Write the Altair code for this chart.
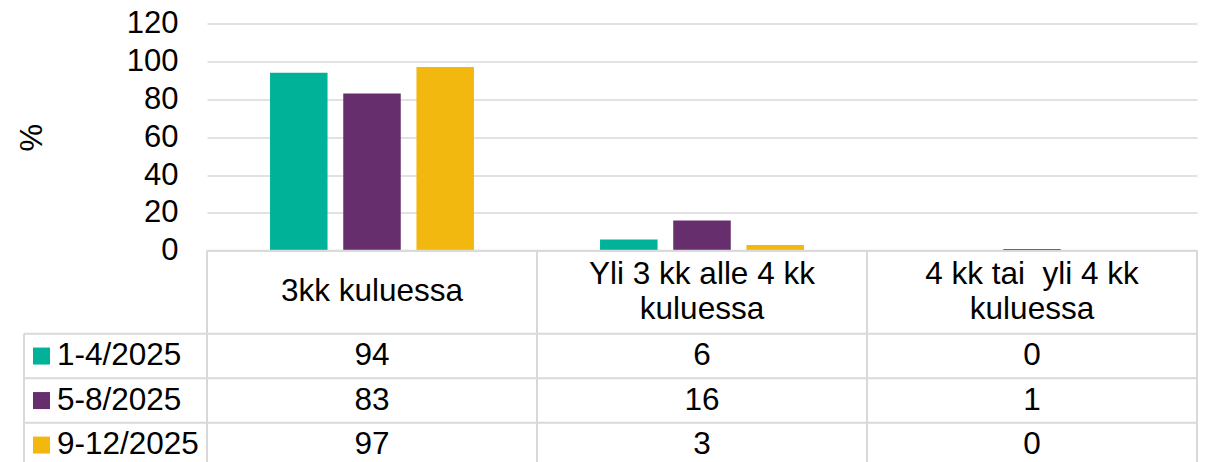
import altair as alt
import pandas as pd

# ---------------- data ----------------
categories = ["3kk kuluessa", "Yli 3 kk alle 4 kk kuluessa", "4 kk tai  yli 4 kk kuluessa"]
header_labels = ["3kk kuluessa", "Yli 3 kk alle 4 kk\nkuluessa", "4 kk tai \u00a0yli 4 kk\nkuluessa"]
series = ["1-4/2025", "5-8/2025", "9-12/2025"]
values_1_4 = [94, 6, 0]
values_5_8 = [83, 16, 1]
values_9_12 = [97, 3, 0]
colors = ["#00b398", "#672e6d", "#f2b80f"]
y_ticks = [0, 20, 40, 60, 80, 100, 120]

# ---------------- layout (pixels) ----------------
FONT = "Liberation Sans"
FS = 31
FS_T = 31.5
LH = 35
W = 990            # plot width
H = 447            # total drawing height (bars + table)
PLOT_H = 227.3     # height of the bar area
HEADER_H = 83
ROW_H = 44.5
LEGEND_W = 183
GRID = "#d9d9d9"

all_vals = [values_1_4, values_5_8, values_9_12]
bar_rows = []
for s, vals in zip(series, all_vals):
    for c, v in zip(categories, vals):
        bar_rows.append({"category": c, "series": s, "value": v})
bar_df = pd.DataFrame(bar_rows)

bars = alt.Chart(bar_df).mark_bar().encode(
    x=alt.X("category:N", sort=categories,
            scale=alt.Scale(domain=categories, paddingInner=0, paddingOuter=0),
            axis=None),
    xOffset=alt.XOffset("series:N", sort=series,
                        scale=alt.Scale(domain=series, paddingInner=0.2145, paddingOuter=0.861)),
    y=alt.Y("value:Q",
            scale=alt.Scale(domain=[0, 120], range=[PLOT_H, 0], nice=False, zero=True),
            axis=alt.Axis(values=y_ticks, title="%", grid=True, gridColor=GRID, gridWidth=1.5,
                          ticks=False, domain=False, labelFont=FONT, labelFontSize=FS,
                          labelColor="#000000", labelPadding=29,
                          titleFont=FONT, titleFontSize=FS, titleFontWeight="normal",
                          titleColor="#000000", titleAngle=270, titleBaseline="middle",
                          titleAlign="center", titleX=-175, titleY=PLOT_H / 2)),
    color=alt.Color("series:N", scale=alt.Scale(domain=series, range=colors), legend=None),
)

# ---------------- table ----------------
ncol = len(categories)
colw = W / ncol
top = PLOT_H
hdr_bottom = top + HEADER_H
row_tops = [hdr_bottom + i * ROW_H for i in range(len(series) + 1)]

tx = alt.Scale(domain=[-LEGEND_W, W], range=[-LEGEND_W, W], nice=False, zero=False)
ty = alt.Scale(domain=[0, H], range=[0, H], nice=False, zero=False)

h_rows = [{"y": top, "x": 0, "x2": W}]
for yv in row_tops:
    h_rows.append({"y": yv, "x": -LEGEND_W, "x2": W})
h_df = pd.DataFrame(h_rows)

v_rows = [{"x": -LEGEND_W, "y": hdr_bottom, "y2": row_tops[-1]}]
for i in range(ncol + 1):
    v_rows.append({"x": i * colw, "y": top, "y2": row_tops[-1]})
v_df = pd.DataFrame(v_rows)

hrules = alt.Chart(h_df).mark_rule(color=GRID, strokeWidth=2).encode(
    x=alt.X("x:Q", scale=tx, axis=None), x2="x2:Q",
    y=alt.Y("y:Q", scale=ty, axis=None))
vrules = alt.Chart(v_df).mark_rule(color=GRID, strokeWidth=2).encode(
    x=alt.X("x:Q", scale=tx, axis=None),
    y=alt.Y("y:Q", scale=ty, axis=None), y2="y2:Q")

header_df = pd.DataFrame({
    "x": [(i + 0.5) * colw for i in range(ncol)],
    "y": [top + HEADER_H / 2 - (lab.count("\n")) * LH / 2 for lab in header_labels],
    "label": header_labels,
})
header_text = alt.Chart(header_df).mark_text(
    font=FONT, fontSize=FS_T, color="#000000", align="center", baseline="middle",
    lineBreak="\n", lineHeight=LH).encode(
    x=alt.X("x:Q", scale=tx, axis=None), y=alt.Y("y:Q", scale=ty, axis=None), text="label:N")

cell_rows = []
for r, (s, vals) in enumerate(zip(series, all_vals)):
    for i, v in enumerate(vals):
        cell_rows.append({"x": (i + 0.5) * colw, "y": hdr_bottom + (r + 0.5) * ROW_H,
                          "label": str(v)})
cell_df = pd.DataFrame(cell_rows)
cell_text = alt.Chart(cell_df).mark_text(
    font=FONT, fontSize=FS_T, color="#000000", align="center", baseline="middle").encode(
    x=alt.X("x:Q", scale=tx, axis=None), y=alt.Y("y:Q", scale=ty, axis=None), text="label:N")

leg_df = pd.DataFrame({
    "series": series,
    "xs": [-LEGEND_W + 17.5] * len(series),
    "xt": [-LEGEND_W + 33] * len(series),
    "y": [hdr_bottom + (r + 0.5) * ROW_H for r in range(len(series))],
})
leg_sq = alt.Chart(leg_df).mark_square(size=289, opacity=1).encode(
    x=alt.X("xs:Q", scale=tx, axis=None), y=alt.Y("y:Q", scale=ty, axis=None),
    color=alt.Color("series:N", scale=alt.Scale(domain=series, range=colors), legend=None))
leg_text = alt.Chart(leg_df).mark_text(
    font=FONT, fontSize=FS_T, color="#000000", align="left", baseline="middle").encode(
    x=alt.X("xt:Q", scale=tx, axis=None), y=alt.Y("y:Q", scale=ty, axis=None), text="series:N")

table = alt.layer(hrules, vrules, leg_sq, leg_text, header_text, cell_text)

chart = alt.layer(bars, table).resolve_scale(x="independent", y="independent").properties(
    width=W, height=H,
    autosize=alt.AutoSizeParams(type="none"),
    padding={"left": 199, "top": 15.5, "right": 2, "bottom": 0},
).configure_view(stroke=None)

chart.save("out.html", embed_options={"renderer": "svg", "actions": False})
